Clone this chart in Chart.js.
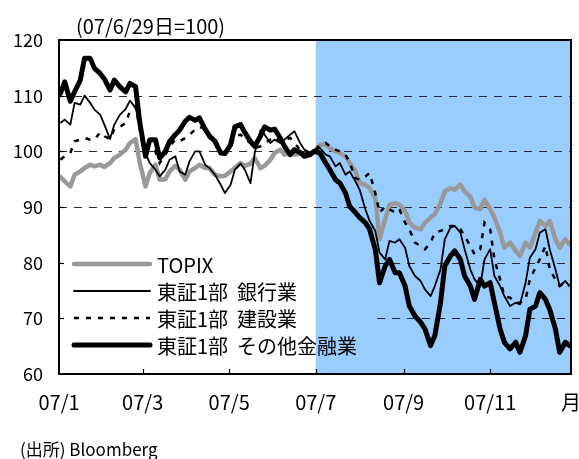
<!DOCTYPE html>
<html><head><meta charset="utf-8">
<script src="https://cdn.jsdelivr.net/npm/chart.js@4/dist/chart.umd.min.js"></script>
<style>html,body{margin:0;padding:0;background:#fff;}</style>
</head><body>
<canvas id="c" width="579" height="459"></canvas>
<script>
// ---- data (x = day of 2007, 0 = Jan 1) ----
const days = [1,4,8,11,15,18,22,25,29,32,36,39,43,47,50,54,57,61,64,68,71,75,78,82,85,89,92,96,99,103,106,110,114,117,121,124,128,131,135,138,142,145,149,152,156,159,163,166,170,173,177,
180,184,188,191,195,198,202,205,209,212,216,219,223,226,230,233,237,240,244,247,251,255,258,262,265,269,272,276,279,283,286,290,293,297,300,304,307,311,314,318,322,325,329,332,336,339,343,346,350,353,357,360];

const topix = [95.4,94.6,93.7,95.8,96.4,97.0,97.6,97.3,97.6,97.2,97.9,98.8,99.4,100.3,101.5,102.2,97.9,93.7,96.1,97.6,94.9,95.0,96.4,97.4,96.7,94.9,96.4,97.0,97.6,97.0,97.0,95.8,95.5,95.6,96.4,97.0,97.9,97.4,97.8,98.8,97.0,97.4,98.5,99.7,100.3,99.4,99.7,99.4,99.6,99.4,99.7,
100,101.2,101.2,100.6,100.0,99.7,99.1,97.9,96.4,94.3,94.0,93.4,91.6,84.2,87.8,90.4,90.7,90.4,89.3,87.2,86.3,86.0,87.2,88.1,88.7,90.7,92.8,93.4,93.1,94.0,92.8,91.9,89.9,89.6,91.3,89.6,88.1,85.4,82.7,83.6,82.1,81.2,83.6,82.7,85.4,87.5,86.6,87.5,84.2,82.7,84.2,83.3];

const banks = [105.1,105.7,104.8,108.7,108.4,110.0,108.7,107.5,106.6,104.8,102.2,104.8,106.6,107.6,109.1,107.8,104.5,99.7,97.9,96.7,95.5,96.7,98.5,99.1,96.4,95.8,98.2,100.0,100.0,97.6,97.0,95.8,94.0,92.5,94.0,96.7,97.8,96.7,94.3,99.7,103.8,103.0,101.5,102.1,101.5,102.1,103.0,103.6,101.5,100.3,99.8,
100,100.6,99.4,99.1,97.3,97.9,95.8,96.4,94.6,93.1,89.6,87.5,85.7,81.8,80.6,83.9,83.6,84.2,82.7,79.4,77.6,76.7,75.2,74.0,75.8,78.8,84.2,86.3,86.6,85.4,82.4,78.8,77.0,75.8,80.6,82.4,77.6,75.8,74.0,72.2,72.8,72.5,76.4,80.9,82.4,85.4,86.0,82.4,78.8,75.8,76.7,75.8];

const construction = [98.5,99.1,99.7,101.8,102.1,102.4,102.1,102.1,103.4,102.7,102.2,104.0,104.4,105.1,107.2,108.1,103.9,99.7,100.3,100.0,97.9,99.4,100.9,102.1,101.8,102.4,103.0,103.9,104.4,104.0,102.4,101.5,100.3,99.7,100.9,102.7,103.0,102.2,101.5,100.6,100.9,101.5,102.1,102.6,101.8,102.1,102.4,101.5,100.3,99.7,99.7,
100,101.2,101.5,100.9,100.3,100.0,99.4,97.9,95.2,94.9,95.5,96.1,92.5,89.0,90.1,89.6,89.0,89.6,87.2,86.0,83.6,83.0,82.4,83.6,85.4,85.7,86.0,86.6,86.6,86.0,84.8,83.0,81.5,82.4,87.2,86.0,80.6,77.0,74.0,73.7,72.8,72.8,73.4,77.0,79.1,80.6,83.0,78.8,77.0,75.8,76.4,75.8];

const otherFinance = [110.4,112.5,109.0,110.7,112.8,116.7,116.7,114.9,114.0,113.0,111.0,112.8,111.6,110.7,112.2,111.6,105.1,99.1,102.1,102.1,98.8,100.0,101.8,103.0,103.8,105.4,106.1,105.6,106.0,104.0,102.8,101.8,99.7,99.6,101.2,104.4,104.8,103.4,101.8,100.9,102.7,104.4,103.8,104.0,102.4,100.9,99.4,100.3,99.8,99.1,99.4,
100,99.7,97.9,96.7,94.9,94.3,92.5,90.1,89.0,88.1,87.2,86.0,82.4,76.4,79.4,80.6,78.2,78.2,75.8,72.2,70.4,69.3,68.1,65.1,66.9,72.8,79.4,81.2,82.1,80.6,77.6,75.8,73.4,77.0,75.8,76.4,72.8,68.1,65.7,64.5,65.7,63.9,66.9,71.6,72.2,74.6,73.4,71.6,68.1,63.9,65.7,65.1];

const seriesNames = ['TOPIX','東証1部  銀行業','東証1部  建設業','東証1部  その他金融業'];
const xTickValues = [0,59,120,181,243,304,361];
const xTickLabels = ['07/1','07/3','07/5','07/7','07/9','07/11','月'];
const yTickValues = [60,70,80,90,100,110,120];
const shadeStartDay = 181;   // 07/7
const titleText = '(07/6/29日=100)';
const sourceText = '(出所) Bloomberg';

const FONT = "'Noto Sans CJK JP', 'Noto Sans', sans-serif";

function toPts(vals){ return vals.map((v,i)=>({x:days[i], y:v})); }

const legendLayout = {dx:15, lineLen:76, gap:7, dy:224, row:27, pad:20, size:20};

function legendBox(chart){
  const a = chart.chartArea, ctx = chart.ctx;
  ctx.save();
  ctx.font = legendLayout.size + 'px ' + FONT;
  let w = 0;
  seriesNames.forEach(n=>{ w = Math.max(w, ctx.measureText(n).width); });
  ctx.restore();
  const x0 = a.left + legendLayout.dx;
  const textX = x0 + legendLayout.lineLen + legendLayout.gap;
  const top = a.top + legendLayout.dy - 14;
  const bottom = a.top + legendLayout.dy + legendLayout.row*(seriesNames.length-1) + 14;
  return {x0, textX, right: textX + w + legendLayout.pad, top, bottom};
}

const decor = {
  id:'decor',
  beforeDatasetsDraw(chart){
    const {ctx, chartArea:a, scales:{x,y}} = chart;
    ctx.save();
    const xs = x.getPixelForValue(shadeStartDay);
    ctx.fillStyle = '#99CCFF';
    ctx.fillRect(xs, a.top, a.right - xs, a.bottom - a.top);
    const lb = legendBox(chart);
    ctx.strokeStyle = '#2a2a2a'; ctx.lineWidth = 1.2; ctx.setLineDash([8,7]);
    yTickValues.slice(1,-1).forEach(v=>{
      const py = Math.round(y.getPixelForValue(v)) + 0.5;
      let x0 = a.left;
      if (py > lb.top && py < lb.bottom) x0 = lb.right;
      ctx.beginPath(); ctx.moveTo(x0, py); ctx.lineTo(a.right, py); ctx.stroke();
    });
    ctx.restore();
  },
  afterDatasetsDraw(chart){
    const {ctx, chartArea:a, scales:{x,y}} = chart;
    ctx.save();
    const lb = legendBox(chart);
    chart.data.datasets.forEach((ds,i)=>{
      const py = a.top + legendLayout.dy + legendLayout.row*i;
      ctx.save();
      ctx.strokeStyle = ds.borderColor; ctx.lineWidth = ds.borderWidth;
      ctx.setLineDash(ds.borderDash || []);
      ctx.lineCap = ds.borderDash ? 'butt' : 'round';
      ctx.beginPath(); ctx.moveTo(lb.x0, py); ctx.lineTo(lb.x0 + legendLayout.lineLen, py); ctx.stroke();
      ctx.restore();
      ctx.fillStyle = '#000'; ctx.font = legendLayout.size + 'px ' + FONT;
      ctx.textBaseline = 'middle'; ctx.textAlign = 'left';
      ctx.fillText(ds.label, lb.textX, py + 1);
    });
    ctx.strokeStyle = '#000'; ctx.lineWidth = 1.2; ctx.setLineDash([]);
    yTickValues.slice(1,-1).forEach(v=>{
      const py = Math.round(y.getPixelForValue(v)) + 0.5;
      ctx.beginPath(); ctx.moveTo(a.left, py); ctx.lineTo(a.left + 5, py); ctx.stroke();
    });
    xTickValues.slice(1,-1).forEach(v=>{
      const px = Math.round(x.getPixelForValue(v)) + 0.5;
      ctx.beginPath(); ctx.moveTo(px, a.bottom); ctx.lineTo(px, a.bottom - 5); ctx.stroke();
    });
    ctx.lineWidth = 2;
    ctx.strokeRect(a.left, a.top, a.right - a.left, a.bottom - a.top);
    ctx.fillStyle = '#000'; ctx.textBaseline = 'middle'; ctx.textAlign = 'left';
    ctx.font = '20px ' + FONT;
    ctx.fillText(titleText, a.left + 17, a.top - 14);
    ctx.font = '17px ' + FONT;
    ctx.fillText(sourceText, 20, 450);
    ctx.restore();
  }
};

new Chart(document.getElementById('c'), {
  type:'line',
  data:{ datasets:[
    {label:seriesNames[0], data:toPts(topix), borderColor:'#999999', borderWidth:4.5, order:4, borderJoinStyle:'round', borderCapStyle:'round'},
    {label:seriesNames[1], data:toPts(banks), borderColor:'#000000', borderWidth:1.8, order:3, borderJoinStyle:'round'},
    {label:seriesNames[2], data:toPts(construction), borderColor:'#000000', borderWidth:2.5, borderDash:[5,7], order:2},
    {label:seriesNames[3], data:toPts(otherFinance), borderColor:'#000000', borderWidth:5, order:1, borderJoinStyle:'round', borderCapStyle:'round'}
  ]},
  options:{
    responsive:false, animation:false, devicePixelRatio:1,
    layout:{padding:{left:0, top:40, right:8, bottom:0}},
    elements:{point:{radius:0}, line:{tension:0}},
    plugins:{legend:{display:false}, tooltip:{enabled:false}},
    scales:{
      x:{type:'linear', min:0, max:361,
         afterBuildTicks:s=>{ s.ticks = xTickValues.map(v=>({value:v})); },
         afterFit:s=>{ s.height = 85; s.paddingLeft = 0; s.paddingRight = 0; },
         ticks:{autoSkip:false, maxRotation:0, color:'#000', padding:16, font:{family:FONT, size:20},
                callback:(v,i)=>xTickLabels[i]},
         grid:{display:false, drawTicks:false}, border:{display:false}},
      y:{min:60, max:120,
         afterBuildTicks:s=>{ s.ticks = yTickValues.map(v=>({value:v})); },
         afterFit:s=>{ s.width = 59; s.paddingTop = 0; s.paddingBottom = 0; },
         ticks:{color:'#000', padding:16, font:{family:FONT, size:18}},
         grid:{display:false, drawTicks:false}, border:{display:false}}
    }
  },
  plugins:[decor]
});
</script>
</body></html>
